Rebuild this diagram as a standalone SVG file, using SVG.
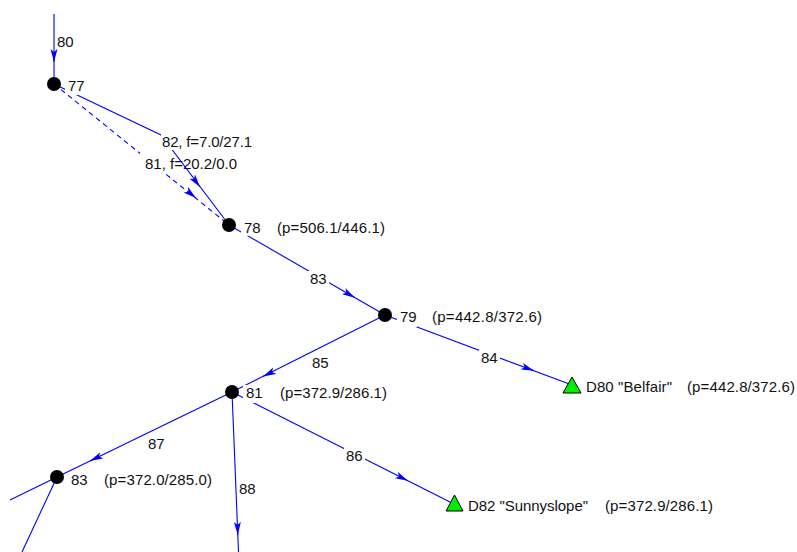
<svg xmlns="http://www.w3.org/2000/svg" width="797" height="552" viewBox="0 0 797 552">
<style>
.ln{stroke:#0000ff;stroke-width:1.1;fill:none}
.dash{stroke-dasharray:5,4}
.ar{stroke:#0000ff;stroke-width:1;fill:none}
.t{font-family:"Liberation Sans",Arial,sans-serif;font-size:15px;fill:#111}
.bg{fill:#ffffff}
.node{fill:#000}
.tri{fill:#00ee00;stroke:#000;stroke-width:1}
</style>
<defs>
<marker id="arr" viewBox="0 0 13 8" refX="13" refY="4" markerWidth="13" markerHeight="8" orient="auto" markerUnits="userSpaceOnUse">
<path d="M0,0.5 L13,4 L0,7.5 L3,4 Z" fill="#0000ff"/>
</marker>
</defs>
<rect width="797" height="552" fill="#ffffff"/>
<g id="connectors">
<g id="e80">
<path class="ln" d="M54,14 L54,84"/>
<path class="ar" d="M54,56 L54,62" marker-end="url(#arr)"/>
<text class="t" x="57" y="47">80</text>
</g>
<g id="e81">
<path class="ln dash" d="M54,84 L229,225"/>
<path class="ar" d="M192.9,195.5 L196,198" marker-end="url(#arr)"/>
<rect class="bg" x="140" y="153" width="99" height="19"/>
<text class="t" x="145" y="169" textLength="92" lengthAdjust="spacing">81, f=20.2/0.0</text>
</g>
<g id="e82">
<path class="ln" d="M54,84 L161,135 L229,225"/>
<path class="ar" d="M197,183 L200,187" marker-end="url(#arr)"/>
<rect class="bg" x="161" y="134" width="92" height="16"/>
<text class="t" x="162" y="147" textLength="90" lengthAdjust="spacing">82, f=7.0/27.1</text>
</g>
<g id="e83">
<path class="ln" d="M229,225 L385,315"/>
<path class="ar" d="M350,294.8 L355,297.7" marker-end="url(#arr)"/>
<rect class="bg" x="308" y="271" width="21" height="15"/>
<text class="t" x="310" y="284">83</text>
</g>
<g id="e84">
<path class="ln" d="M385,315 L572,385"/>
<path class="ar" d="M529.3,369 L534,370.8" marker-end="url(#arr)"/>
<rect class="bg" x="479" y="350" width="21" height="15"/>
<text class="t" x="481" y="363">84</text>
</g>
<g id="e85">
<path class="ln" d="M385,315 L232,392"/>
<path class="ar" d="M267.5,374.2 L263,376.4" marker-end="url(#arr)"/>
<text class="t" x="312" y="368">85</text>
</g>
<g id="e86">
<path class="ln" d="M232,392 L454,504"/>
<path class="ar" d="M403.5,478.6 L408,480.8" marker-end="url(#arr)"/>
<rect class="bg" x="344" y="448" width="21" height="15"/>
<text class="t" x="346" y="461">86</text>
</g>
<g id="e87">
<path class="ln" d="M232,392 L57,477"/>
<path class="ar" d="M94.5,458.8 L90,461" marker-end="url(#arr)"/>
<text class="t" x="148" y="449">87</text>
</g>
<g id="e88">
<path class="ln" d="M232,392 L238.5,552"/>
<path class="ar" d="M237.6,529 L237.8,535" marker-end="url(#arr)"/>
<text class="t" x="239" y="494">88</text>
</g>
<g id="e83out">
<path class="ln" d="M57,477 L10,500"/>
<path class="ln" d="M57,477 L22,552"/>
</g>
</g>
<g id="n77">
<rect class="bg" x="65" y="77" width="19" height="18"/>
<circle class="node" cx="54" cy="84" r="7"/>
<text class="t" x="68" y="91">77</text>
</g>
<g id="n78">
<rect class="bg" x="241" y="220" width="20" height="16"/>
<circle class="node" cx="229" cy="225" r="7"/>
<text class="t" x="244" y="233">78</text>
<text class="t" x="277" y="233" textLength="108" lengthAdjust="spacing">(p=506.1/446.1)</text>
</g>
<g id="n79">
<rect class="bg" x="397" y="309" width="20" height="18"/>
<circle class="node" cx="385" cy="315" r="7"/>
<text class="t" x="400" y="322">79</text>
<text class="t" x="432" y="322" textLength="110" lengthAdjust="spacing">(p=442.8/372.6)</text>
</g>
<g id="n81">
<rect class="bg" x="243" y="385" width="20" height="18"/>
<circle class="node" cx="232" cy="392" r="7"/>
<text class="t" x="246" y="398">81</text>
<text class="t" x="280" y="398" textLength="107" lengthAdjust="spacing">(p=372.9/286.1)</text>
</g>
<g id="n83">
<circle class="node" cx="57" cy="477" r="7"/>
<text class="t" x="71" y="485">83</text>
<text class="t" x="104" y="485" textLength="108" lengthAdjust="spacing">(p=372.0/285.0)</text>
</g>
<g id="D80">
<polygon class="tri" points="572,377 581,393 563,393"/>
<text class="t" x="586" y="392" textLength="86" lengthAdjust="spacing">D80 "Belfair"</text>
<text class="t" x="687" y="392" textLength="108" lengthAdjust="spacing">(p=442.8/372.6)</text>
</g>
<g id="D82">
<polygon class="tri" points="454.5,495 463,511 446,511"/>
<text class="t" x="468" y="511" textLength="120" lengthAdjust="spacing">D82 "Sunnyslope"</text>
<text class="t" x="605" y="511" textLength="108" lengthAdjust="spacing">(p=372.9/286.1)</text>
</g>
</svg>
